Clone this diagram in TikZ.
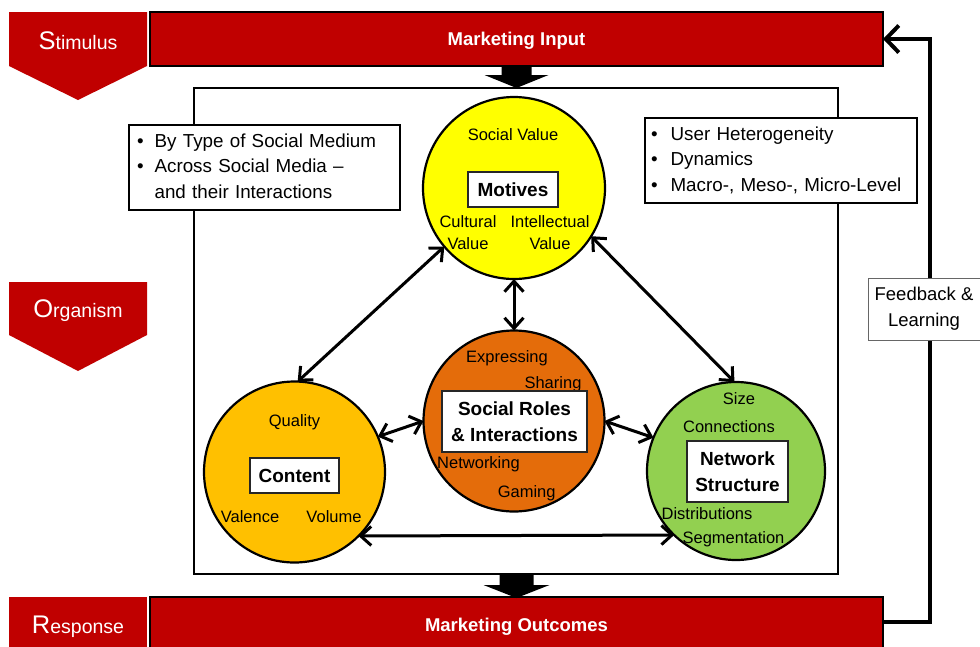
\documentclass[tikz,border=0pt]{standalone}
\usepackage{fontspec}
\setmainfont{Liberation Sans}
\usetikzlibrary{arrows.meta}
\definecolor{barred}{HTML}{C00000}
\definecolor{motyellow}{HTML}{FFFF00}
\definecolor{conorange}{HTML}{FFC000}
\definecolor{rolorange}{HTML}{E46C0A}
\definecolor{netgreen}{HTML}{92D050}
\begin{document}
\begin{tikzpicture}[x=1pt,y=-1pt,
  chev/.style={fill=barred,draw=none},
  chevtext/.style={text=white,inner sep=0,anchor=base,font=\fontsize{19.5}{22}\selectfont},
  bar/.style={fill=barred,draw=black,line width=2.5pt,text=white,inner sep=0,outer sep=0,
    font=\fontsize{18.5}{22}\selectfont\bfseries,text height=13.3pt,text depth=0pt,anchor=north west},
  circ/.style={circle,draw=black,line width=2.2pt,inner sep=0,outer sep=0},
  lbl/.style={font=\fontsize{16.5}{22}\selectfont,inner sep=0,text height=11.8pt,text depth=0pt},
  lbltwo/.style={font=\fontsize{16.5}{22}\selectfont,inner sep=0,align=center},
  tbox/.style={draw=black!85,line width=1.1pt,fill=white,inner sep=0,align=center,
    font=\fontsize{19}{26}\selectfont\bfseries},
  infobox/.style={draw=black,line width=1.3pt,fill=white,anchor=west,outer sep=0,inner ysep=0,
    align=left,font=\fontsize{18.8}{25.5}\selectfont,minimum height=85pt},
  link/.style={line width=3pt,{Straight Barb[length=10.5pt,width=19pt]}-{Straight Barb[length=10.5pt,width=19pt]}},
  blockarrow/.style={fill=black,draw=none}
]
\useasboundingbox (0,0) rectangle (980,646);
\clip (0,0) rectangle (980,646);

% left chevrons
\fill[chev] (9,12) -- (147,12) -- (147,66) -- (78,100) -- (9,66) -- cycle;
\node[chevtext] (stim) at (78,49.3) {{\fontsize{25.5}{28}\selectfont S}timulus};
\fill[chev] (9,282) -- (147,282) -- (147,335) -- (78,371) -- (9,335) -- cycle;
\node[chevtext] (org) at (78,317.7) {{\fontsize{25.5}{28}\selectfont O}rganism};
\fill[chev] (9,597) -- (147,597) -- (147,660) -- (9,660) -- cycle;
\node[chevtext] (resp) at (78,633.3) {{\fontsize{25.5}{28}\selectfont R}esponse};

% bars
\node[bar,minimum width=733pt,minimum height=54pt] (mi) at (150,12) {Marketing Input};
\node[bar,minimum width=733pt,minimum height=56pt] (mo) at (150,597) {Marketing Outcomes};

% frame
\node[draw=black,line width=2.2pt,minimum width=644pt,minimum height=486pt,inner sep=0,outer sep=0,anchor=north west] (frame) at (194,88) {};

% block arrows
\fill[blockarrow] (501.5,66) -- (531.5,66) -- (531.5,75) -- (548.5,75) -- (516.5,88) -- (484.5,75) -- (501.5,75) -- cycle;
\fill[blockarrow] (499.5,574) -- (533.5,574) -- (533.5,585) -- (549.5,585) -- (516.5,598) -- (483.5,585) -- (499.5,585) -- cycle;

% info boxes
\node[infobox,minimum width=271pt,text width=255pt,inner xsep=8pt] (lb) at (129,167.5)
  {\begin{tabular}{@{}l@{\hspace{11pt}}l@{}}\textbullet & By Type of Social Medium\\ \textbullet & Across Social Media –\\ & and their Interactions\end{tabular}};
\node[infobox,minimum width=272pt,text width=260pt,inner xsep=6pt] (rb) at (645,160.5)
  {\begin{tabular}{@{}l@{\hspace{13pt}}l@{}}\textbullet & User Heterogeneity\\ \textbullet & Dynamics\\ \textbullet & Macro-, Meso-, Micro-Level\end{tabular}};

% feedback loop
\coordinate (fbs) at (883,622);
\draw[line width=4pt,-{Straight Barb[length=13pt,width=27pt]}] (fbs) -- (930,622) -- (930,39) -- (mi.east);
\node[draw=black!60,line width=1pt,fill=white,minimum width=112pt,minimum height=62pt,inner sep=0,
  align=center,font=\fontsize{18.5}{26}\selectfont] (fb) at (924,309) {Feedback \&\\Learning};

% circles
\node[circ,fill=motyellow,minimum size=182pt] (mot) at (514,188) {};
\node[circ,fill=conorange,minimum size=181pt] (con) at (294.5,472) {};
\node[circ,fill=rolorange,minimum size=181pt] (rol) at (514,421) {};
\node[circ,fill=netgreen,minimum size=178pt] (net) at (736,471) {};

% motives texts
\node[lbl] (sv) at (513,135) {Social Value};
\node[tbox,minimum width=90pt,minimum height=35pt] (motb) at (513,189.5) {Motives};
\node[lbltwo] (cv) at (468,232.7) {Cultural\\Value};
\node[lbltwo] (iv) at (550,232.7) {Intellectual\\Value};

% content texts
\node[lbl] (qu) at (294.5,421) {Quality};
\node[tbox,minimum width=89pt,minimum height=35pt] (conb) at (294.5,475.5) {Content};
\node[lbl] (va) at (250,517) {Valence};
\node[lbl] (vo) at (334,517) {Volume};

% social roles texts
\node[lbl] (ex) at (507,357) {Expressing};
\node[lbl] (sh) at (553,383) {Sharing};
\node[tbox,minimum width=145pt,minimum height=61pt] (rolb) at (514.5,421.5) {Social Roles\\\& Interactions};
\node[lbl] (nw) at (478.5,463) {Networking};
\node[lbl] (ga) at (526.7,491.7) {Gaming};

% network texts
\node[lbl] (si) at (739,398.5) {Size};
\node[lbl] (cn) at (729,427) {Connections};
\node[tbox,minimum width=101pt,minimum height=61pt] (netb) at (737.5,471.5) {Network\\Structure};
\node[lbl] (di) at (707,514) {Distributions};
\node[lbl] (se) at (733.5,537.5) {Segmentation};

% connectors
\draw[link] (mot.220) -- (con.88);
\draw[link] (mot.270) -- (rol.90);
\draw[link] (mot.328) -- (net.91);
\draw[link] (con.23) -- (rol.180);
\draw[link] (rol.0) -- (net.158);
\draw[link] (con.315) -- (net.226);
\end{tikzpicture}
\end{document}
